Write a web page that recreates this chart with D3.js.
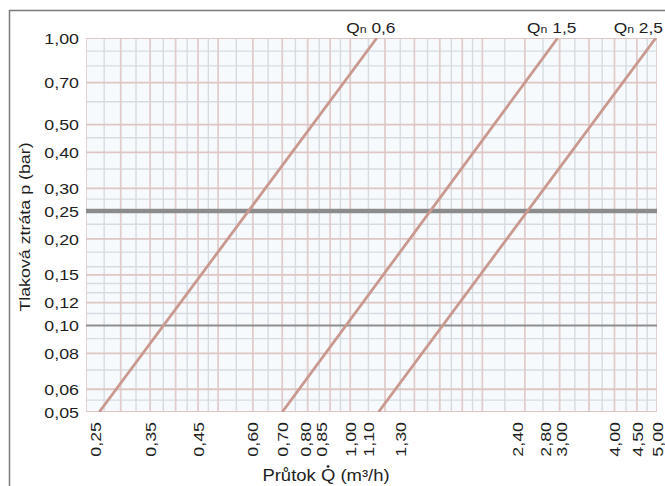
<!DOCTYPE html>
<html>
<head>
<meta charset="utf-8">
<script src="https://cdn.jsdelivr.net/npm/d3@7/dist/d3.min.js"></script>
<style>
  html, body { margin: 0; padding: 0; background: #ffffff; }
  svg { display: block; }
  text { font-family: "Liberation Sans", Arial, sans-serif; fill: #1e1e1e; }
</style>
</head>
<body>
<script>
// ---------------- data ----------------
const xTicks = [0.25, 0.35, 0.45, 0.60, 0.70, 0.80, 0.85, 1.00, 1.10, 1.30, 2.40, 2.80, 3.00, 4.00, 4.50, 5.00];
const yTicks = [1.00, 0.70, 0.50, 0.40, 0.30, 0.25, 0.20, 0.15, 0.12, 0.10, 0.08, 0.06, 0.05];

const xGridMajor = [0.25, 0.3, 0.35, 0.4, 0.45, 0.5, 0.6, 0.7, 0.8, 0.9, 1.0, 1.2, 1.4, 1.6, 1.8, 2.0, 2.5, 3.0, 3.5, 4.0, 4.5, 5.0];
const xGridMinor = [0.275, 0.325, 0.375, 0.425, 0.475, 0.55, 0.65, 0.75, 0.85, 0.95, 1.1, 1.3, 1.5, 1.7, 1.9, 2.25, 2.75, 3.25, 3.75, 4.25, 4.75];
const yGridMajor = [1.0, 0.7, 0.5, 0.4, 0.3, 0.2, 0.15, 0.12, 0.08, 0.06, 0.05];
const yGridMinor = [0.9, 0.8, 0.6, 0.45, 0.35, 0.275, 0.225, 0.18, 0.16, 0.14, 0.13, 0.11, 0.09, 0.07, 0.055];
const yRefThick = [0.25];
const yRefThin = [0.10];

const seriesNames = ["0,6", "1,5", "2,5"];
const seriesP = [0.05, 1.00];                 // pressure loss (bar) at both ends
const seriesQ = [[0.268, 1.15], [0.70, 2.97], [1.16, 4.97]]; // flow (m³/h) at those pressures

// ---------------- layout ----------------
const W = 665, H = 486;
const plot = { left: 86, right: 657, top: 38, bottom: 412 };

const svg = d3.select("body").append("svg").attr("width", W).attr("height", H);

const x = d3.scaleLog().domain([0.25, 5.0]).range([plot.left, plot.right]);
const y = d3.scaleLog().domain([0.05, 1.0]).range([plot.bottom, plot.top]);
const fmt = v => d3.format(".2f")(v).replace(".", ",");
const STRETCH = 1.15;

// frame
svg.append("line").attr("x1", 9).attr("x2", W).attr("y1", 10.5).attr("y2", 10.5)
  .attr("stroke", "#7a7a7a").attr("stroke-width", 1.5);
svg.append("line").attr("x1", 9.5).attr("x2", 9.5).attr("y1", 10).attr("y2", H)
  .attr("stroke", "#7a7a7a").attr("stroke-width", 1.5);

// plot background
svg.append("rect").attr("x", plot.left).attr("y", plot.top)
  .attr("width", plot.right - plot.left).attr("height", plot.bottom - plot.top)
  .attr("fill", "#f7fafc");

svg.append("clipPath").attr("id", "clip").append("rect")
  .attr("x", plot.left).attr("y", plot.top)
  .attr("width", plot.right - plot.left).attr("height", plot.bottom - plot.top);

const grid = svg.append("g").attr("clip-path", "url(#clip)");

// minor grid
grid.selectAll(".vminor").data(xGridMinor).join("line")
  .attr("x1", d => x(d)).attr("x2", d => x(d)).attr("y1", plot.top).attr("y2", plot.bottom)
  .attr("stroke", "#d5dbe1").attr("stroke-width", 1.4);
grid.selectAll(".hminor").data(yGridMinor).join("line")
  .attr("y1", d => y(d)).attr("y2", d => y(d)).attr("x1", plot.left).attr("x2", plot.right)
  .attr("stroke", "#d5dbe1").attr("stroke-width", 1.4);

// major grid
grid.selectAll(".vmajor").data(xGridMajor).join("line")
  .attr("x1", d => x(d)).attr("x2", d => x(d)).attr("y1", plot.top).attr("y2", plot.bottom)
  .attr("stroke", "#e1cdcb").attr("stroke-width", 1.8);
grid.selectAll(".hmajor").data(yGridMajor).join("line")
  .attr("y1", d => y(d)).attr("y2", d => y(d)).attr("x1", plot.left).attr("x2", plot.right)
  .attr("stroke", "#ddc6c4").attr("stroke-width", 1.8);

// reference lines
grid.selectAll(".hthin").data(yRefThin).join("line")
  .attr("y1", d => y(d)).attr("y2", d => y(d)).attr("x1", plot.left).attr("x2", plot.right)
  .attr("stroke", "#8e8e8e").attr("stroke-width", 2);
grid.selectAll(".hthick").data(yRefThick).join("line")
  .attr("y1", d => y(d)).attr("y2", d => y(d)).attr("x1", plot.left).attr("x2", plot.right)
  .attr("stroke", "#8c8c8c").attr("stroke-width", 4.5);

// series lines
const line = d3.line().x(d => x(d[0])).y(d => y(d[1]));
grid.selectAll(".series").data(seriesQ).join("path")
  .attr("d", q => line(q.map((v, i) => [v, seriesP[i]])))
  .attr("fill", "none").attr("stroke", "#c9998f").attr("stroke-width", 2.8);

// y tick labels
svg.append("g").selectAll("g").data(yTicks).join("g")
  .attr("transform", d => `translate(${plot.left - 7},${y(d)}) scale(${STRETCH},1)`)
  .append("text").attr("text-anchor", "end").attr("dy", "0.36em")
  .attr("font-size", 15.5).text(fmt);

// x tick labels (positions from scale, then separated to avoid overlap)
const minGap = 16;
let xp = xTicks.map(d => x(d));
for (let it = 0; it < 50; it++) {
  for (let i = 1; i < xp.length; i++) {
    const gap = xp[i] - xp[i - 1];
    if (gap < minGap) { const s = (minGap - gap) / 2; xp[i - 1] -= s; xp[i] += s; }
  }
}
xp[0] = Math.max(xp[0], plot.left + 9);
xp[xp.length - 1] = Math.min(xp[xp.length - 1], plot.right);
svg.append("g").selectAll("g").data(xTicks).join("g")
  .attr("transform", (d, i) => `translate(${xp[i]},${plot.bottom + 10}) rotate(-90) scale(${STRETCH},1)`)
  .append("text").attr("text-anchor", "end").attr("dy", "0.36em")
  .attr("font-size", 15.5).text(fmt);

// axis titles
const xtg = svg.append("g").attr("transform", `translate(326,481) scale(1.12,1)`);
const xt = xtg.append("text").attr("text-anchor", "middle").attr("font-size", 16.5)
  .text("Průtok Q (m³/h)");
// dot above Q (flow rate symbol)
const qIdx = "Průtok Q (m³/h)".indexOf("Q");
const qBox = xt.node().getExtentOfChar(qIdx);
xtg.append("circle")
  .attr("cx", qBox.x + qBox.width / 2)
  .attr("cy", -16.5 * 0.716 - 2.6)
  .attr("r", 1.25).attr("fill", "#1e1e1e");

svg.append("g").attr("transform", `translate(30,227) rotate(-90) scale(${STRETCH},1)`)
  .append("text").attr("text-anchor", "middle").attr("font-size", 15.5)
  .text("Tlaková ztráta p (bar)");

// series labels
seriesNames.forEach((name, i) => {
  const g = svg.append("g");
  const t = g.append("text").attr("text-anchor", "middle").attr("font-size", 15.5);
  t.append("tspan").text("Q");
  t.append("tspan").attr("font-size", 11).text("n");
  t.append("tspan").text(" " + name);
  const w = t.node().getComputedTextLength() * 1.12;
  let cx = x(seriesQ[i][1]) - 6;
  if (cx + w / 2 > W - 2) cx = W - 2 - w / 2;
  g.attr("transform", `translate(${cx},33) scale(1.12,1)`);
});
</script>
</body>
</html>
